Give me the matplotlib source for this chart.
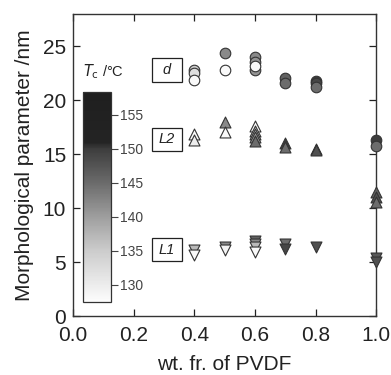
import numpy as np
import matplotlib
matplotlib.use("Agg")
import matplotlib.pyplot as plt
from matplotlib.colors import LinearSegmentedColormap, Normalize
from matplotlib.patches import Rectangle

plt.rcParams['font.family'] = ['Liberation Sans', 'DejaVu Sans']

# d (long period), circles
d_x = [0.4, 0.4, 0.4, 0.5, 0.5, 0.6, 0.6, 0.6, 0.6, 0.7, 0.7, 0.8, 0.8, 0.8, 1.0, 1.0]
d_y = [22.8, 22.5, 21.85, 24.4, 22.8, 24.0, 23.5, 22.8, 23.2, 22.1, 21.6, 21.8, 21.6, 21.2, 16.3, 15.8]
d_tc = [135, 132, 128, 142, 128, 142, 141, 141, 128, 146, 145, 150, 149, 145, 150, 145]

# L2, up triangles
l2_x = [0.4, 0.4, 0.5, 0.5, 0.6, 0.6, 0.6, 0.6, 0.6, 0.7, 0.7, 0.8, 0.8, 1.0, 1.0, 1.0]
l2_y = [16.85, 16.3, 18.0, 17.05, 17.6, 17.15, 16.85, 16.55, 16.2, 16.0, 15.7, 15.5, 15.35, 11.5, 11.05, 10.6]
l2_tc = [128, 130, 142, 128, 128, 133, 137, 140, 145, 150, 145, 151, 148, 146, 148, 145]

# L1, down triangles
l1_x = [0.4, 0.4, 0.5, 0.5, 0.6, 0.6, 0.6, 0.6, 0.7, 0.7, 0.8, 1.0, 1.0]
l1_y = [6.1, 5.65, 6.4, 6.1, 7.0, 6.7, 6.4, 5.95, 6.7, 6.25, 6.4, 5.4, 5.0]
l1_tc = [137, 128, 142, 129, 146, 142, 137, 128, 145, 149, 148, 147, 148]

cb_ticks = [130, 135, 140, 145, 150, 155]
tc_min, tc_max = 127.5, 158.4

# grey scale: white at low Tc, near black above 150 C
nodes = [127.5, 135, 140, 145, 150, 151, 158.4]
greys = [0.99, 0.80, 0.62, 0.42, 0.24, 0.14, 0.12]
pos = [(n - tc_min) / (tc_max - tc_min) for n in nodes]
cmap = LinearSegmentedColormap.from_list("tc", [(p, (g, g, g)) for p, g in zip(pos, greys)])
norm = Normalize(tc_min, tc_max)

fig = plt.figure(figsize=(3.91, 3.75), dpi=100)
ax = fig.add_axes([0.187, 0.157, 0.775, 0.806])

ec = '#333333'
for xs, ys, tcs, m, s in [(d_x, d_y, d_tc, 'o', 58), (l2_x, l2_y, l2_tc, '^', 62),
                          (l1_x, l1_y, l1_tc, 'v', 62)]:
    for x, y, t in zip(xs, ys, tcs):
        ax.scatter(x, y, s=s, marker=m, c=[t], cmap=cmap, norm=norm,
                   edgecolors=ec, linewidths=0.8, zorder=3, clip_on=False)

# label boxes
for label, yc in [('d', 22.8), ('L2', 16.4), ('L1', 6.15)]:
    ax.add_patch(Rectangle((0.261, yc - 1.07), 0.098, 2.14, facecolor='white',
                           edgecolor='#222222', linewidth=0.9, zorder=2))
    ax.text(0.31, yc, label, style='italic', fontsize=10.5, ha='center', va='center',
            color='#222222', zorder=4)

ax.set_xlim(0, 1.0)
ax.set_ylim(0, 28)
ax.set_xticks([0.0, 0.2, 0.4, 0.6, 0.8, 1.0])
ax.set_yticks([0, 5, 10, 15, 20, 25])
ax.tick_params(direction='in', length=5, width=0.9, top=True, right=True,
               labelsize=15, colors='#222222')
ax.tick_params(axis='x', pad=7)
ax.tick_params(axis='y', pad=5)
for sp in ax.spines.values():
    sp.set_color('#333333')
    sp.set_linewidth(1.0)
ax.set_xlabel('wt. fr. of PVDF', fontsize=15, color='#222222', labelpad=7)
ax.set_ylabel('Morphological parameter /nm', fontsize=15, color='#222222', labelpad=6)

# colour bar inside the plot
cax = fig.add_axes([0.212, 0.195, 0.071, 0.56])
sm = plt.cm.ScalarMappable(norm=norm, cmap=cmap)
cb = fig.colorbar(sm, cax=cax, ticks=cb_ticks)
cb.outline.set_linewidth(0.9)
cb.outline.set_edgecolor('#333333')
cax.tick_params(direction='out', length=5, width=0.8, labelsize=10,
                colors='#444444', pad=2)
cax.set_title(r'$T_{\rm c}$ /°C', fontsize=10.5, color='#222222', pad=11, loc='left')

fig.savefig('out.png', dpi=100)
